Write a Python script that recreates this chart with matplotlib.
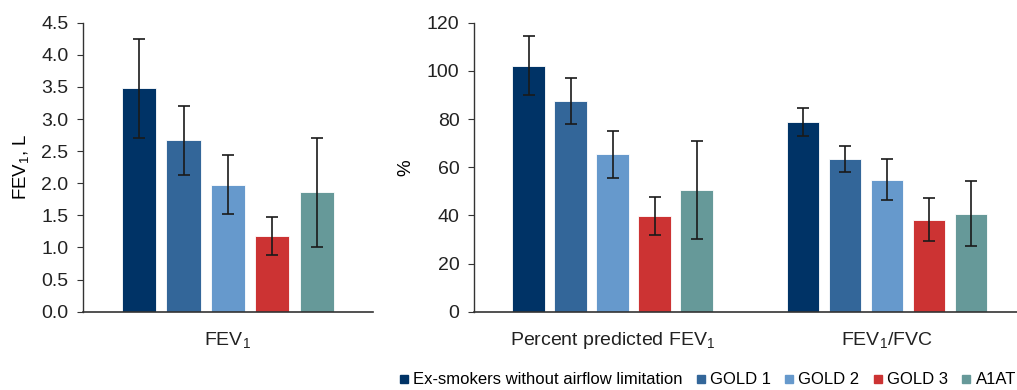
import numpy as np
import matplotlib.pyplot as plt
from matplotlib.lines import Line2D

plt.rcParams['font.family'] = ['Liberation Sans', 'DejaVu Sans']
plt.rcParams['mathtext.fontset'] = 'custom'
plt.rcParams['mathtext.rm'] = 'Liberation Sans'

# groups and colours
groups = ['Ex-smokers without airflow limitation', 'GOLD 1', 'GOLD 2', 'GOLD 3', 'A1AT']
colors = ['#003366', '#336699', '#6699CC', '#CC3333', '#669999']

# left panel: FEV1 in litres
fev1_mean = [3.48, 2.67, 1.98, 1.18, 1.86]
fev1_sd = [0.77, 0.54, 0.46, 0.29, 0.85]

# right panel: percent
pct_categories = ['Percent predicted FEV$\\mathregular{_1}$', 'FEV$\\mathregular{_1}$/FVC']
pct_mean = [[102.2, 87.6, 65.4, 39.7, 50.5],
            [78.8, 63.4, 54.8, 38.2, 40.7]]
pct_sd = [[12.4, 9.5, 9.8, 7.8, 20.3],
          [5.8, 5.5, 8.6, 9.0, 13.4]]

step = 0.153
width = 0.118
offsets = (np.arange(len(groups)) - 2) * step

fig = plt.figure(figsize=(10.17, 3.9), dpi=100)
ax1 = fig.add_axes([0.0816, 0.2008, 0.285, 0.741])
ax2 = fig.add_axes([0.4661, 0.2008, 0.534, 0.741])

err_kw = dict(ecolor='#1a1a1a', elinewidth=1.2, capsize=4, capthick=1.2)

for i in range(len(groups)):
    ax1.bar(offsets[i], fev1_mean[i], width, yerr=fev1_sd[i], color=colors[i],
            edgecolor='white', linewidth=0.6, error_kw=err_kw)
    for j in range(len(pct_categories)):
        ax2.bar(j + offsets[i], pct_mean[j][i], width, yerr=pct_sd[j][i], color=colors[i],
                edgecolor='white', linewidth=0.6, error_kw=err_kw)

ax1.set_xlim(-0.5, 0.5)
ax1.set_ylim(0, 4.5)
ax1.set_yticks(np.arange(0, 4.51, 0.5))
ax1.set_yticklabels([f'{v:.1f}' for v in np.arange(0, 4.51, 0.5)])
ax1.set_xticks([0])
ax1.set_xticklabels(['FEV$\\mathregular{_1}$'])
ax1.set_ylabel('FEV$\\mathregular{_1}$, L', fontsize=13.5, labelpad=7)

ax2.set_xlim(-0.505, 1.474)
ax2.set_ylim(0, 120)
ax2.set_yticks(np.arange(0, 121, 20))
ax2.set_xticks([0, 1])
ax2.set_xticklabels(pct_categories)
ax2.set_ylabel('%', fontsize=13.5, labelpad=9)

for ax in (ax1, ax2):
    ax.spines['top'].set_visible(False)
    ax.spines['right'].set_visible(False)
    ax.spines['left'].set_color('#333333')
    ax.spines['bottom'].set_color('#333333')
    ax.spines['left'].set_linewidth(1.0)
    ax.spines['bottom'].set_linewidth(1.2)
    ax.tick_params(axis='y', labelsize=14, length=4.5, pad=6, color='#333333', labelcolor='#222222')
    ax.tick_params(axis='x', labelsize=14, length=0, pad=13, labelcolor='#222222')

handles = [Line2D([], [], marker='s', linestyle='none', markersize=5.5,
                  markerfacecolor=c, markeredgecolor=c) for c in colors]
fig.legend(handles, groups, loc='center right', bbox_to_anchor=(0.999, 10 / 390),
           ncol=5, frameon=False, fontsize=12, handlelength=0.5, handletextpad=0.3,
           columnspacing=0.85, borderaxespad=0, borderpad=0)

fig.savefig('out.png', dpi=100)
